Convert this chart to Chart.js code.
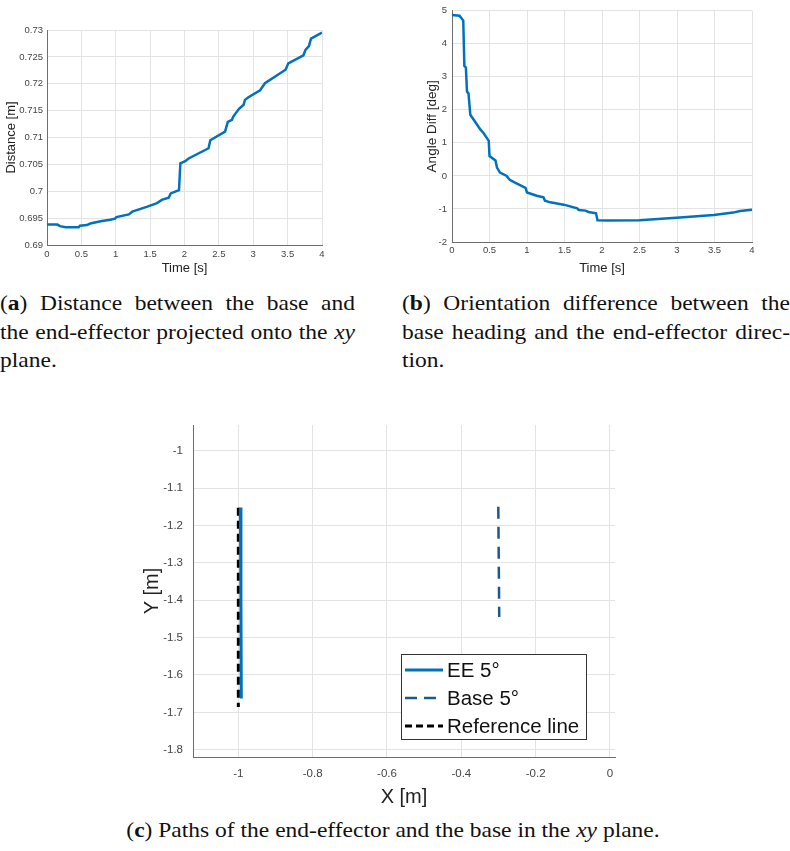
<!DOCTYPE html>
<html>
<head>
<meta charset="utf-8">
<script src="https://cdn.jsdelivr.net/npm/chart.js@4.4.1/dist/chart.umd.min.js"></script>
<style>
  body { margin: 0; background: #fff; width: 790px; height: 851px; position: relative; overflow: hidden; }
  canvas { position: absolute; }
  .cap { position: absolute; font-family: 'Liberation Serif', 'Times New Roman', serif; font-size: 23.5px; line-height: 28.5px; color: #111; }
  .cap div { text-align: justify; text-align-last: justify; transform: scaleY(0.85); }
  .cap div.last { text-align-last: left; }
  .cap.center div { text-align: center; text-align-last: center; }
</style>
</head>
<body>
<canvas id="dist" width="340" height="285" style="left:0;top:0"></canvas>
<canvas id="angle" width="390" height="285" style="left:400px;top:0"></canvas>
<canvas id="paths" width="560" height="415" style="left:100px;top:400px"></canvas>

<div class="cap" style="left:0;top:289px;width:355px">
  <div>(<b>a</b>) Distance between the base and</div>
  <div>the end-effector projected onto the <i>xy</i></div>
  <div class="last">plane.</div>
</div>
<div class="cap" style="left:402px;top:289px;width:388px">
  <div>(<b>b</b>) Orientation difference between the</div>
  <div>base heading and the end-effector direc-</div>
  <div class="last">tion.</div>
</div>
<div class="cap center" style="left:0;top:816px;width:786px">
  <div>(<b>c</b>) Paths of the end-effector and the base in the <i>xy</i> plane.</div>
</div>

<script>
// distance between base and end-effector over time
const aTime = [0, 0.15, 0.19, 0.27, 0.46, 0.48, 0.58, 0.63, 0.78, 0.92, 0.99, 1.01, 1.19, 1.24, 1.45, 1.6, 1.67, 1.77, 1.8, 1.92, 1.94, 2.01, 2.06, 2.35, 2.375, 2.59, 2.63, 2.69, 2.71, 2.79, 2.86, 2.88, 2.93, 3.1, 3.17, 3.47, 3.51, 3.73, 3.76, 3.81, 3.84, 4.0];
const aDist = [0.6938, 0.6938, 0.6935, 0.6933, 0.6933, 0.6936, 0.6937, 0.6940, 0.6944, 0.6947, 0.6949, 0.6952, 0.6957, 0.6962, 0.6971, 0.6978, 0.6984, 0.6988, 0.6996, 0.7002, 0.7052, 0.7056, 0.7061, 0.7080, 0.7095, 0.7111, 0.7129, 0.7133, 0.7139, 0.7153, 0.7161, 0.7170, 0.7175, 0.7188, 0.7201, 0.7226, 0.7238, 0.7253, 0.7263, 0.7270, 0.7284, 0.7295];

// heading difference (deg)
const bTime = [0, 0.1, 0.15, 0.165, 0.185, 0.2, 0.22, 0.244, 0.29, 0.38, 0.42, 0.49, 0.5, 0.58, 0.6, 0.64, 0.73, 0.77, 0.84, 0.98, 1.0, 1.13, 1.22, 1.24, 1.31, 1.49, 1.67, 1.69, 1.78, 1.82, 1.92, 1.94, 2.07, 2.5, 3.04, 3.49, 3.75, 3.84, 4.0];
const bAngle = [4.87, 4.85, 4.7, 3.33, 3.28, 2.55, 2.5, 1.85, 1.7, 1.4, 1.3, 1.06, 0.6, 0.47, 0.25, 0.1, 0.0, -0.12, -0.2, -0.36, -0.5, -0.6, -0.65, -0.75, -0.8, -0.87, -0.98, -1.03, -1.05, -1.09, -1.13, -1.34, -1.35, -1.34, -1.26, -1.18, -1.11, -1.06, -1.02];

// xy paths
const eeX = [-0.9945, -0.993, -0.992];
const eeY = [-1.152, -1.40, -1.663];
const baseX = [-0.3005, -0.298];
const baseY = [-1.150, -1.445];
const refX = [-1, -1];
const refY = [-1.153, -1.686];
const pathLabels = ['EE 5°', 'Base 5°', 'Reference line'];

// tick values
const timeTicks = [0, 0.5, 1, 1.5, 2, 2.5, 3, 3.5, 4];
const distTicks = [0.69, 0.695, 0.7, 0.705, 0.71, 0.715, 0.72, 0.725, 0.73];
const angleTicks = [-2, -1, 0, 1, 2, 3, 4, 5];
const pathXTicks = [-1, -0.8, -0.6, -0.4, -0.2, 0];
const pathYTicks = [-1.8, -1.7, -1.6, -1.5, -1.4, -1.3, -1.2, -1.1, -1];

const FONT = '"Liberation Sans", Arial, sans-serif';
const BLUE = '#0072BD';
const GRID = '#e3e3e3', AXIS = '#6e6e6e', TEXT = '#444';

const fmt = v => String(Math.round(v * 1000) / 1000);
const pts = (xs, ys) => xs.map((x, i) => ({ x: x, y: ys[i] }));

function axis(o) {
  const left = o.position === 'left';
  return {
    type: 'linear',
    position: o.position,
    min: o.min,
    max: o.max,
    afterBuildTicks: s => { s.ticks = o.ticks.map(v => ({ value: v })); },
    afterFit: s => { if (left) s.width = o.size; else s.height = o.size; },
    grid: { color: GRID, lineWidth: 1, drawTicks: false },
    border: { color: AXIS, width: 1 },
    ticks: { padding: o.pad, color: TEXT, font: { family: FONT, size: o.tickSize }, maxRotation: 0, autoSkip: false, callback: v => fmt(v) },
    title: {
      display: true, text: o.title, color: '#222',
      font: { family: FONT, size: o.titleSize },
      padding: left ? { top: o.titlePad, bottom: 0 } : { top: 0, bottom: o.titlePad }
    }
  };
}

const common = {
  responsive: false,
  animation: false,
  plugins: { legend: { display: false }, tooltip: { enabled: false } }
};

new Chart(document.getElementById('dist'), {
  type: 'line',
  data: { datasets: [{ data: pts(aTime, aDist), borderColor: BLUE, borderWidth: 2.5, pointRadius: 0, tension: 0 }] },
  options: Object.assign({}, common, {
    layout: { padding: { top: 30, right: 18, bottom: 0, left: 0 } },
    scales: {
      x: axis({ position: 'bottom', min: 0, max: 4, ticks: timeTicks, size: 40, pad: 4, tickSize: 9.5, title: 'Time [s]', titleSize: 13, titlePad: 9 }),
      y: axis({ position: 'left', min: 0.69, max: 0.73, ticks: distTicks, size: 47, pad: 4, tickSize: 9.5, title: 'Distance [m]', titleSize: 13, titlePad: 4 })
    }
  })
});

new Chart(document.getElementById('angle'), {
  type: 'line',
  data: { datasets: [{ data: pts(bTime, bAngle), borderColor: BLUE, borderWidth: 2.5, pointRadius: 0, tension: 0 }] },
  options: Object.assign({}, common, {
    layout: { padding: { top: 8, right: 38, bottom: 0, left: 0 } },
    scales: {
      x: axis({ position: 'bottom', min: 0, max: 4, ticks: timeTicks, size: 43, pad: 3, tickSize: 9.5, title: 'Time [s]', titleSize: 13, titlePad: 9 }),
      y: axis({ position: 'left', min: -2, max: 5, ticks: angleTicks, size: 52, pad: 5, tickSize: 9.5, title: 'Angle Diff [deg]', titleSize: 13.5, titlePad: 24 })
    }
  })
});

// legend box drawn inside the plot area
const pathLegend = {
  id: 'pathLegend',
  afterDatasetsDraw(chart) {
    const { ctx, chartArea } = chart;
    const x = chartArea.left + 208, y = chartArea.top + 229, w = 185, h = 85;
    ctx.save();
    ctx.fillStyle = '#fff';
    ctx.fillRect(x, y, w, h);
    ctx.strokeStyle = '#333';
    ctx.lineWidth = 1;
    ctx.strokeRect(x + 0.5, y + 0.5, w, h);
    ctx.font = '20.5px ' + FONT;
    ctx.textBaseline = 'middle';
    chart.data.datasets.forEach((ds, i) => {
      const ly = y + 16 + i * 28;
      ctx.strokeStyle = ds.borderColor;
      ctx.lineWidth = ds.borderWidth;
      ctx.setLineDash(ds.legendDash || []);
      ctx.beginPath();
      ctx.moveTo(x + 4, ly);
      ctx.lineTo(x + 42, ly);
      ctx.stroke();
      ctx.setLineDash([]);
      ctx.fillStyle = '#111';
      ctx.fillText(ds.label, x + 46, ly + 1);
    });
    ctx.restore();
  }
};

new Chart(document.getElementById('paths'), {
  type: 'line',
  data: {
    datasets: [
      { label: pathLabels[0], data: pts(eeX, eeY), borderColor: BLUE, borderWidth: 3, pointRadius: 0, tension: 0 },
      { label: pathLabels[1], data: pts(baseX, baseY), borderColor: '#1a5a8a', borderWidth: 2.5, borderDash: [12, 8], legendDash: [12, 7], pointRadius: 0, tension: 0 },
      { label: pathLabels[2], data: pts(refX, refY), borderColor: '#000', borderWidth: 3, borderDash: [8, 5], legendDash: [7, 4], pointRadius: 0, tension: 0 }
    ]
  },
  options: Object.assign({}, common, {
    layout: { padding: { top: 25, right: 45, bottom: 0, left: 0 } },
    scales: {
      x: axis({ position: 'bottom', min: -1.122, max: 0.0135, ticks: pathXTicks, size: 58, pad: 10, tickSize: 11.5, title: 'X [m]', titleSize: 20, titlePad: 6 }),
      y: axis({ position: 'left', min: -1.8195, max: -0.9313, ticks: pathYTicks, size: 93, pad: 10, tickSize: 11.5, title: 'Y [m]', titleSize: 20, titlePad: 40 })
    }
  }),
  plugins: [pathLegend]
});
</script>
</body>
</html>
